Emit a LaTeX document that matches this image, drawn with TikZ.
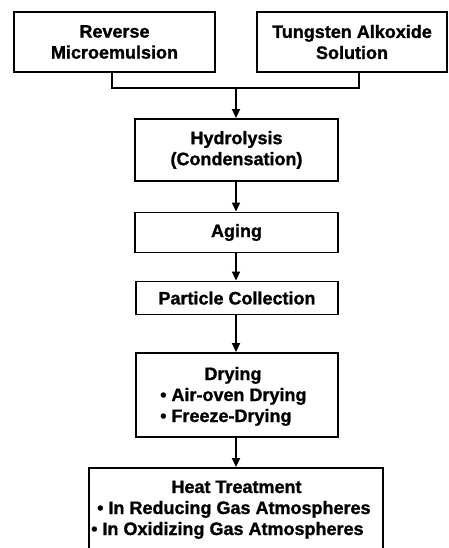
\documentclass[tikz,border=0pt]{standalone}
\usepackage{fontspec}
\setmainfont{Liberation Sans}
\newfontfamily\heavyfont{Liberation Sans Bold}[FakeBold=1.2]
\usetikzlibrary{arrows.meta}
\begin{document}
\begin{tikzpicture}[x=1pt,y=-1pt,
  box/.style={draw=black,line width=1.9pt,rectangle,inner sep=0pt,align=center,font=\fontsize{18}{21}\selectfont\heavyfont},
  txt/.style={inner sep=0pt,font=\fontsize{18}{21}\selectfont\heavyfont},
  conn/.style={line width=1.9pt},
  arr/.style={line width=1.9pt,-{Triangle[length=9pt,width=8pt]}}]
\useasboundingbox (0,0) rectangle (448,548);
\clip (0,0) rectangle (448,548);
\node[box,minimum width=201pt,minimum height=60pt] (b1) at (114.5,42) {Reverse\\Microemulsion};
\node[box,minimum width=190pt,minimum height=60pt] (b2) at (352,42) {Tungsten Alkoxide\\Solution};
\node[box,minimum width=203pt,minimum height=62pt] (hyd) at (236.5,150) {Hydrolysis\\(Condensation)};
\node[box,minimum width=203pt,minimum height=40pt] (aging) at (236.5,232.5) {Aging};
\node[box,minimum width=202pt,minimum height=33pt] (part) at (237,298) {Particle Collection};
\node[box,minimum width=202pt,minimum height=84pt] (dry) at (237,395) {};
\node[txt,anchor=base] (dryt) at (233,380) {Drying};
\node[txt,anchor=base west] (dry1) at (160,401) {• Air-oven Drying};
\node[txt,anchor=base west] (dry2) at (160,422) {• Freeze-Drying};
\node[box,minimum width=294pt,minimum height=100pt] (heat) at (236,518) {};
\node[txt,anchor=base] (heatt) at (236.5,493) {Heat Treatment};
\node[txt,anchor=base west] (heat1) at (97,514) {• In Reducing Gas Atmospheres};
\node[txt,anchor=base west] (heat2) at (91,535) {• In Oxidizing Gas Atmospheres};
\coordinate (j1) at (112,88);
\coordinate (j2) at (359,88);
\coordinate (jm) at (236,88);
\draw[conn] (b1.south -| j1) -- (j1) -- (j2) -- (b2.south -| j2);
\draw[arr] (jm) -- (hyd.north -| jm);
\draw[arr] (hyd.south -| jm) -- (aging.north -| jm);
\draw[arr] (aging.south -| jm) -- (part.north -| jm);
\draw[arr] (part.south -| jm) -- (dry.north -| jm);
\draw[arr] (dry.south -| jm) -- (heat.north -| jm);
\end{tikzpicture}
\end{document}
